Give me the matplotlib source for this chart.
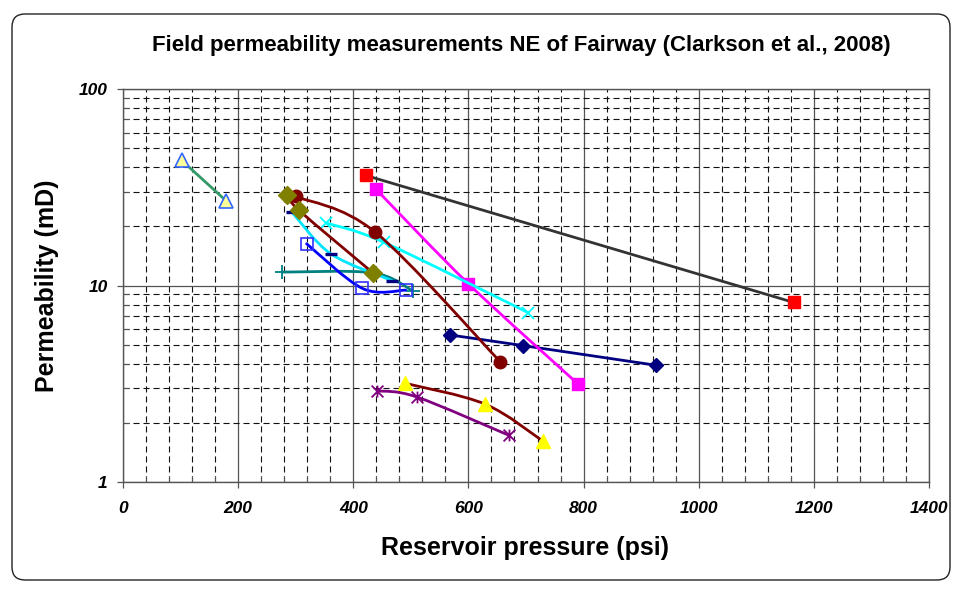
import numpy as np
import matplotlib
matplotlib.use("Agg")
import matplotlib.pyplot as plt
from matplotlib.path import Path
from matplotlib.patches import PathPatch, FancyBboxPatch
from matplotlib.ticker import MultipleLocator, LogLocator, NullFormatter

plt.rcParams['font.family'] = ['Liberation Sans', 'DejaVu Sans']

# reservoir pressure (psi) and permeability (mD), one pair of lists per well group
navy_p = [568, 694, 925]
navy_k = [5.6, 4.95, 3.93]

magenta_p = [439, 600, 791]
magenta_k = [31.0, 10.2, 3.14]

yellow_p = [490, 629, 730]
yellow_k = [3.18, 2.49, 1.61]

cyan_p = [353, 453, 704]
cyan_k = [20.8, 16.6, 7.27]

purple_p = [442, 510, 670]
purple_k = [2.91, 2.71, 1.73]

maroon_p = [300, 438, 655]
maroon_k = [28.4, 18.7, 4.1]

teal_p = [277, 434, 503]
teal_k = [11.7, 11.6, 9.4]

dash_p = [293, 361, 467]
dash_k = [23.7, 14.5, 10.6]

blue_p = [319, 416, 491]
blue_k = [16.3, 9.66, 9.47]

olive_p = [285, 306, 434]
olive_k = [29.0, 24.1, 11.6]

green_p = [102, 179]
green_k = [43.3, 27.0]

red_p = [422, 1165]
red_k = [36.3, 8.2]

x_ticks = [0, 200, 400, 600, 800, 1000, 1200, 1400]
y_ticks = [1, 10, 100]
y_labels = ['1', '10', '100']


def smooth_path(xs, ks):
    # Catmull-Rom curve through the points, built in (x, log k) space
    pts = np.column_stack([xs, np.log10(ks)]).astype(float)
    n = len(pts)
    verts = [pts[0]]
    codes = [Path.MOVETO]
    for i in range(n - 1):
        p0 = pts[max(i - 1, 0)]
        p1 = pts[i]
        p2 = pts[i + 1]
        p3 = pts[min(i + 2, n - 1)]
        verts += [p1 + (p2 - p0) / 6, p2 - (p3 - p1) / 6, p2]
        codes += [Path.CURVE4] * 3
    verts = np.array(verts)
    verts[:, 1] = 10 ** verts[:, 1]
    return Path(verts, codes)


star = Path([(0, -1), (0, 1), (-1, -1), (1, 1), (-1, 1), (1, -1)],
            [Path.MOVETO, Path.LINETO] * 3)

fig = plt.figure(figsize=(9.57, 5.92), dpi=100)
ax = fig.add_axes([123 / 957, 1 - 482 / 592, 806 / 957, 393 / 592])

series = [
    # x, y, line colour, marker, size, face, edge, edge width
    (navy_p, navy_k, '#000080', 'D', 7.5, '#000080', '#000080', 1),
    (magenta_p, magenta_k, '#FF00FF', 's', 9, '#FF00FF', '#FF00FF', 1),
    (yellow_p, yellow_k, '#800000', '^', 10, '#FFFF00', '#FFFF00', 1),
    (cyan_p, cyan_k, '#00FFFF', 'x', 9, 'none', '#00FFFF', 1.3),
    (purple_p, purple_k, '#800080', star, 8.5, 'none', '#800080', 1.3),
    (maroon_p, maroon_k, '#800000', 'o', 9, '#800000', '#800000', 1),
    (teal_p, teal_k, '#008080', '+', 10, 'none', '#008080', 1.3),
    (dash_p, dash_k, '#00E5FF', '_', 9, 'none', '#000080', 2.4),
    (blue_p, blue_k, '#0000FF', 's', 9, 'none', '#3333FF', 1.2),
    (olive_p, olive_k, '#800000', 'D', 9, '#808000', '#808000', 1),
    (green_p, green_k, '#339966', '^', 10, '#FFFF99', '#3366FF', 1.2),
    (red_p, red_k, '#333333', 's', 9, '#FF0000', '#FF0000', 1),
]

for i, (xs, ks, lc, mk, ms, fc, ec, mew) in enumerate(series):
    z = 3 + i * 0.1
    ax.add_patch(PathPatch(smooth_path(xs, ks), fill=False, edgecolor=lc,
                           lw=2.0, zorder=z, capstyle='round', joinstyle='round'))
    ax.plot(xs, ks, linestyle='none', marker=mk, markersize=ms,
            markerfacecolor=fc, markeredgecolor=ec, markeredgewidth=mew,
            zorder=z + 0.05)

ax.set_yscale('log')
ax.set_xlim(0, 1400)
ax.set_ylim(1, 100)
ax.set_xticks(x_ticks)
ax.xaxis.set_minor_locator(MultipleLocator(40))
ax.set_yticks(y_ticks)
ax.set_yticklabels(y_labels)
ax.yaxis.set_minor_locator(LogLocator(base=10, subs=range(2, 10)))
ax.yaxis.set_minor_formatter(NullFormatter())

dash = (0, (5.5, 3.5))
ax.grid(True, which='major', color='#555555', lw=0.9, ls='-', zorder=1)
ax.grid(True, which='minor', color='#111111', lw=0.8, ls=dash, zorder=1)
ax.set_axisbelow(True)

for s in ax.spines.values():
    s.set_color('#555555')
    s.set_linewidth(1.0)

ax.tick_params(which='major', direction='out', length=4, width=0.9,
               color='#555555', pad=10)
ax.tick_params(axis='y', which='major', pad=7)
ax.tick_params(which='minor', direction='in', length=4, width=0.8,
               color='#555555')
for lab in ax.get_xticklabels() + ax.get_yticklabels():
    lab.set_fontsize(12.5)
    lab.set_fontweight('bold')
    lab.set_fontstyle('italic')

fig.text(521 / 957, 1 - 46 / 592,
         'Field permeability measurements NE of Fairway (Clarkson et al., 2008)',
         ha='center', va='center', fontsize=16, fontweight='bold')
fig.text(525 / 957, 1 - 548 / 592, 'Reservoir pressure (psi)',
         ha='center', va='center', fontsize=18, fontweight='bold')
fig.text(47 / 957, 1 - 286 / 592, 'Permeability (mD)', rotation=90,
         ha='center', va='center', fontsize=18, fontweight='bold')

border = FancyBboxPatch((0.12, 0.12), 9.38, 5.66,
                        boxstyle='round,pad=0,rounding_size=0.13',
                        transform=fig.dpi_scale_trans, fill=False,
                        edgecolor='#222222', lw=1.0)
fig.patches.append(border)

fig.savefig('out.png', dpi=100)
